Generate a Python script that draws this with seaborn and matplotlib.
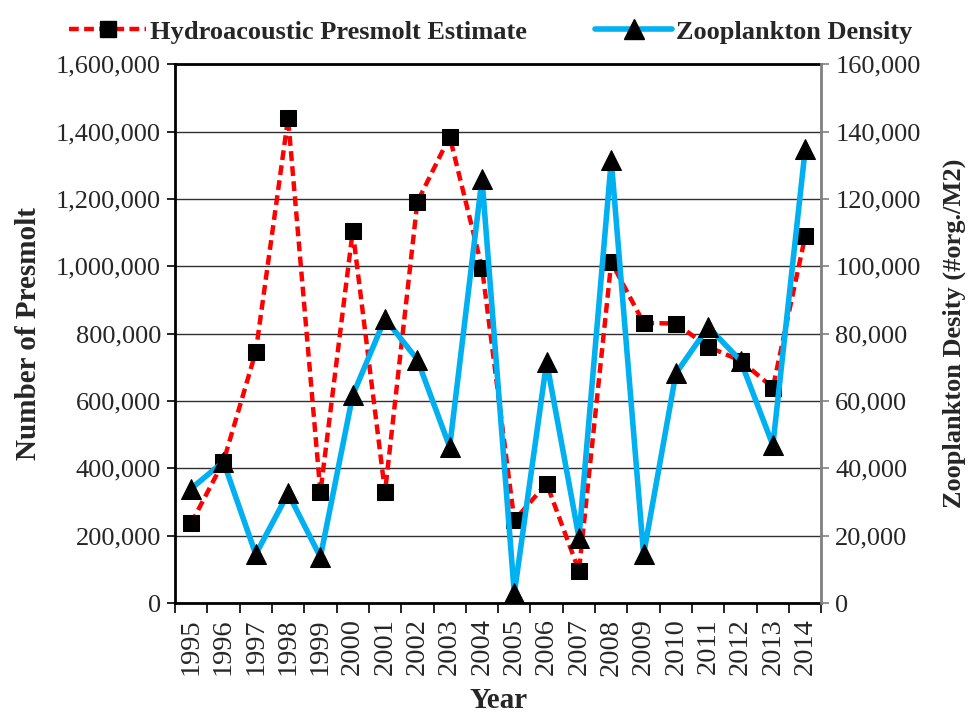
import matplotlib
matplotlib.use("Agg")
import matplotlib.pyplot as plt
from matplotlib.lines import Line2D
from matplotlib.ticker import FuncFormatter, MultipleLocator
import seaborn as sns

years = list(range(1995, 2015))
presmolt = [237000, 420000, 746000, 1440000, 329000, 1105000, 330000, 1191000,
            1385000, 996000, 246000, 355000, 96000, 1013000, 832000, 830000,
            761000, 720000, 640000, 1089000]
zooplankton = [34000, 42000, 14500, 32600, 13700, 61700, 84500, 72300,
               46400, 126000, 2900, 71600, 19500, 131500, 14500, 68200,
               82000, 72000, 46900, 134700]

RED = "#FF0000"
BLUE = "#00B0F0"

sns.set_style("white")
plt.rcParams["font.family"] = ["Liberation Serif", "DejaVu Serif"]

fig = plt.figure(figsize=(9.72, 7.13), dpi=100)
ax = fig.add_axes([0.180, 0.154, 0.665, 0.756])
ax2 = ax.twinx()

# gridlines on the primary axis
ax.yaxis.grid(True, color="#303030", lw=1.0)
ax.set_axisbelow(True)

sns.lineplot(x=years, y=presmolt, ax=ax, color=RED, lw=3.2,
             linestyle=(0, (2.2, 1.2)), marker="s", markersize=11,
             markerfacecolor="black", markeredgecolor="black", zorder=3)
sns.lineplot(x=years, y=zooplankton, ax=ax2, color=BLUE, lw=4.0,
             marker="^", markersize=15, markerfacecolor="black",
             markeredgecolor="black", zorder=3)

fmt = FuncFormatter(lambda v, p: f"{int(v):,}")
ax.set_ylim(0, 1600000)
ax.yaxis.set_major_locator(MultipleLocator(200000))
ax.yaxis.set_major_formatter(fmt)
ax2.set_ylim(0, 160000)
ax2.yaxis.set_major_locator(MultipleLocator(20000))
ax2.yaxis.set_major_formatter(fmt)

ax.set_xlim(years[0] - 0.5, years[-1] + 0.5)
ax.set_xticks(years)
ax.set_xticklabels([str(y) for y in years], rotation=90)
ax.set_xticks([y + 0.5 for y in [years[0] - 1] + years], minor=True)
ax.tick_params(axis="x", which="major", length=0, labelsize=20.5, pad=11)
ax.tick_params(axis="x", which="minor", length=7, width=1.2, color="black",
               direction="out", bottom=True)
ax.tick_params(axis="y", length=6, width=1.2, color="black", direction="out",
               left=True, labelsize=19, pad=4)
ax2.tick_params(axis="y", length=6, width=1.2, color="#808080",
                direction="out", right=True, labelsize=19, pad=4)

for name in ["left", "bottom", "top"]:
    ax.spines[name].set_color("black")
    ax.spines[name].set_linewidth(2.0)
    ax2.spines[name].set_visible(False)
ax.spines["right"].set_visible(False)
ax2.spines["right"].set_color("#808080")
ax2.spines["right"].set_linewidth(2.0)

ax.set_xlabel("Year", fontsize=21, fontweight="bold", labelpad=8)
ax.set_ylabel("Number of Presmolt", fontsize=21, fontweight="bold", labelpad=10)
ax2.set_ylabel("Zooplankton Desity (#org./M2)", fontsize=19,
               fontweight="bold", labelpad=16)

handles = [
    Line2D([], [], color=RED, lw=3.2, linestyle=(0, (2.2, 1.2)), marker="s",
           markersize=11, markerfacecolor="black", markeredgecolor="black"),
    Line2D([], [], color=BLUE, lw=4.0, marker="^", markersize=15,
           markerfacecolor="black", markeredgecolor="black"),
]
fig.legend(handles, ["Hydroacoustic Presmolt Estimate", "Zooplankton Density"],
           loc="upper center", bbox_to_anchor=(0.505, 1.005), ncol=2,
           frameon=False, prop={"weight": "bold", "size": 19},
           handlelength=2.9, handletextpad=0.15, columnspacing=2.6)

fig.savefig("out.png", dpi=100)
